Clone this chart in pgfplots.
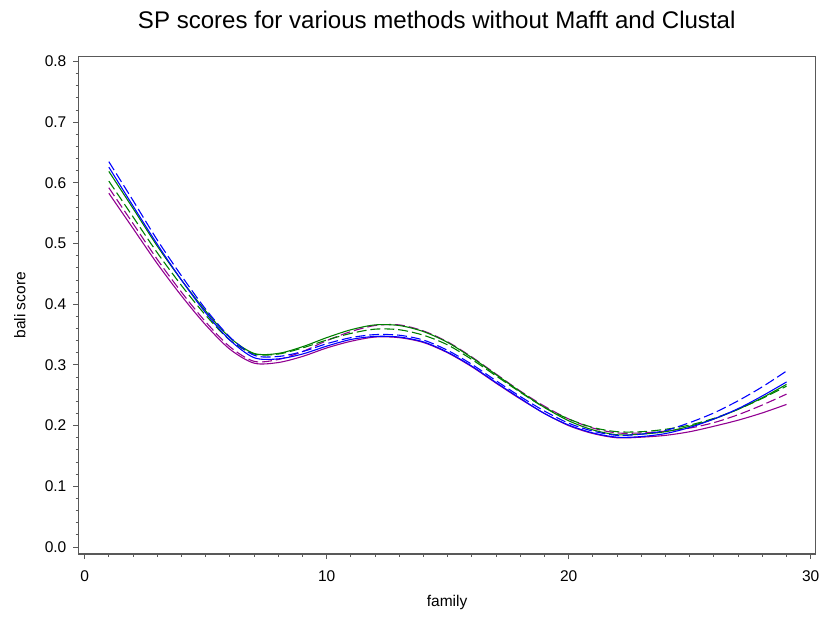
\documentclass[border=0pt]{standalone}
\usepackage{pgfplots}
\pgfplotsset{compat=1.18}
\usepackage{fontspec}
\setmainfont{Liberation Sans}
\definecolor{cblue}{RGB}{0,0,255}
\definecolor{cgreen}{RGB}{0,128,0}
\definecolor{cpurple}{RGB}{145,0,145}
\pgfplotstableread{
f BD BS GS GD PD PS
1 0.635 0.626 0.619 0.603 0.592 0.583
2 0.571 0.562 0.558 0.544 0.533 0.525
3 0.506 0.499 0.496 0.485 0.474 0.467
4 0.447 0.440 0.440 0.431 0.420 0.414
5 0.392 0.386 0.389 0.382 0.371 0.366
6 0.346 0.341 0.345 0.341 0.330 0.326
7 0.316 0.312 0.319 0.318 0.306 0.303
8 0.314 0.310 0.319 0.318 0.309 0.304
9 0.322 0.318 0.330 0.328 0.322 0.314
10 0.335 0.331 0.345 0.341 0.340 0.328
11 0.345 0.342 0.358 0.352 0.355 0.339
12 0.350 0.347 0.366 0.359 0.365 0.346
13 0.349 0.346 0.365 0.358 0.366 0.345
14 0.341 0.338 0.355 0.349 0.356 0.337
15 0.324 0.321 0.337 0.333 0.338 0.320
16 0.301 0.298 0.312 0.309 0.313 0.297
17 0.274 0.271 0.284 0.282 0.285 0.270
18 0.248 0.245 0.256 0.255 0.257 0.244
19 0.224 0.220 0.230 0.230 0.232 0.220
20 0.204 0.201 0.208 0.211 0.211 0.200
21 0.191 0.188 0.193 0.197 0.196 0.187
22 0.184 0.181 0.185 0.190 0.188 0.180
23 0.186 0.182 0.186 0.190 0.188 0.181
24 0.192 0.187 0.190 0.194 0.191 0.184
25 0.205 0.197 0.199 0.201 0.196 0.190
26 0.221 0.211 0.211 0.212 0.205 0.199
27 0.241 0.228 0.227 0.227 0.218 0.209
28 0.264 0.249 0.246 0.245 0.234 0.221
29 0.290 0.272 0.268 0.265 0.252 0.235
}\data
\begin{document}
\begin{tikzpicture}
\begin{axis}[
  scale only axis, width=370.5pt, height=250pt,
  xmin=-0.25, xmax=30.2, ymin=-0.0115, ymax=0.808,
  xtick={0,10,20,30}, minor x tick num=9,
  ytick={0,0.1,...,0.8}, minor y tick num=4,
  xtick pos=bottom, ytick pos=left, tick align=outside,
  major tick length=2.6pt, minor tick length=1.5pt,
  axis line style={black!65, line width=0.7pt},
  every tick/.style={black!65, line width=0.5pt},
  /pgf/number format/assume math mode=true,
  yticklabel style={/pgf/number format/.cd, fixed, fixed zerofill, precision=1},
  tick label style={font=\fontsize{7.8}{9}\selectfont},
  xticklabel style={yshift=-2pt},
  label style={font=\fontsize{7.8}{9}\selectfont, inner sep=0pt},
  xlabel={family}, ylabel={bali score},
  xlabel style={at={(axis description cs:0.5,-0.098)}, anchor=center},
  ylabel style={at={(axis description cs:-0.0796,0.5)}, anchor=center},
  title={SP scores for various methods without Mafft and Clustal},
  title style={at={(axis description cs:0.486,1)}, anchor=center, inner sep=0pt, yshift=12.5pt, font=\fontsize{12.1}{14}\selectfont},
  every axis plot/.append style={line width=0.55pt, smooth, no markers},
]
\coordinate (sw) at (rel axis cs:0,0);
\coordinate (ne) at (rel axis cs:1,1);
\addplot[cpurple] table[x=f,y=PS]{\data};
\addplot[cpurple, dash pattern=on 5pt off 2pt] table[x=f,y=PD]{\data};
\addplot[cgreen, dash pattern=on 5pt off 2pt] table[x=f,y=GD]{\data};
\addplot[cgreen] table[x=f,y=GS]{\data};
\addplot[cblue] table[x=f,y=BS]{\data};
\addplot[cblue, dash pattern=on 5pt off 2pt] table[x=f,y=BD]{\data};
\end{axis}
\path ([shift={(-39.5pt,-32pt)}]sw) rectangle ([shift={(3pt,28.5pt)}]ne);
\end{tikzpicture}
\end{document}
